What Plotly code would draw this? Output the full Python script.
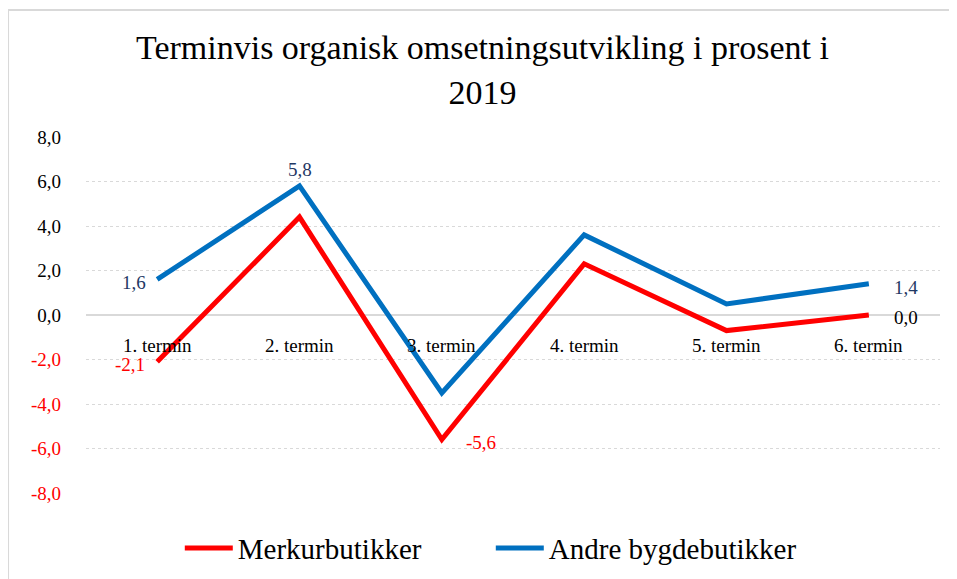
import plotly.graph_objects as go

categories = ["1. termin", "2. termin", "3. termin", "4. termin", "5. termin", "6. termin"]
merkur = [-2.1, 4.4, -5.6, 2.3, -0.7, 0.0]
andre = [1.6, 5.8, -3.5, 3.6, 0.5, 1.4]
tick_vals = [-8, -6, -4, -2, 0, 2, 4, 6, 8]

# data labels: (index, xshift, yshift)
merkur_labels = [(0, -27, -3), (2, 39, -3), (5, 37, -2)]
andre_labels = [(0, -23, -3), (1, 0, 16), (5, 37, -4)]

def fmt(v):
    return f"{v:.1f}".replace(".", ",")

FONT = "Liberation Serif"

fig = go.Figure()
fig.add_trace(go.Scatter(
    x=categories, y=merkur, name="Merkurbutikker", mode="lines",
    line=dict(color="#FF0000", width=5), cliponaxis=False))
fig.add_trace(go.Scatter(
    x=categories, y=andre, name="Andre bygdebutikker", mode="lines",
    line=dict(color="#0070C0", width=5), cliponaxis=False))

for i, dx, dy in merkur_labels:
    v = merkur[i]
    fig.add_annotation(x=categories[i], y=v, text=fmt(v), showarrow=False,
                       xshift=dx, yshift=dy,
                       font=dict(family=FONT, size=19, color="#FF0000" if v < 0 else "#000000"))
for i, dx, dy in andre_labels:
    v = andre[i]
    fig.add_annotation(x=categories[i], y=v, text=fmt(v), showarrow=False,
                       xshift=dx, yshift=dy,
                       font=dict(family=FONT, size=19, color="#1F3864"))

tick_text = [(f"<span style='color:#FF0000'>{fmt(v)}</span>" if v < 0 else fmt(v)) for v in tick_vals]

for c in categories:
    fig.add_annotation(x=c, y=0, text=c, showarrow=False, yshift=-30,
                       font=dict(family=FONT, size=19, color="#000000"))

fig.add_shape(type="line", xref="paper", yref="paper", x0=-0.0913, x1=1.05, y0=1.357, y1=1.357,
              line=dict(color="#D9D9D9", width=2))
fig.add_shape(type="line", xref="paper", yref="paper", x0=-0.0913, x1=-0.0913, y0=1.357, y1=-0.3,
              line=dict(color="#D9D9D9", width=2))

fig.update_layout(
    width=949, height=571,
    margin=dict(l=78, r=17, t=129, b=86, autoexpand=False),
    paper_bgcolor="white", plot_bgcolor="white",
    title=dict(text="Terminvis organisk omsetningsutvikling i prosent i<br>2019",
               x=0.5, xanchor="center", y=0.91, yanchor="middle",
               font=dict(family=FONT, size=34, color="#000000")),
    font=dict(family=FONT, color="#000000"),
    xaxis=dict(showticklabels=False, showgrid=False, zeroline=False, showline=False,
               ticks="", range=[-0.5, 5.5], automargin=False),
    yaxis=dict(range=[-8, 8], tickvals=tick_vals, ticktext=tick_text,
               tickfont=dict(family=FONT, size=19, color="#000000"),
               showgrid=True, gridcolor="#D9D9D9", griddash="dot", gridwidth=1,
               zeroline=True, zerolinecolor="#D9D9D9", zerolinewidth=2,
               showline=False, ticks="", ticklabelstandoff=24, automargin=False),
    legend=dict(orientation="h", x=0.474, xanchor="center", y=-0.155, yanchor="middle",
                font=dict(family=FONT, size=29, color="#000000"),
                itemwidth=48, tracegroupgap=0, entrywidth=248, entrywidthmode="pixels"),
    showlegend=True,
)

fig.write_html("out.html")
